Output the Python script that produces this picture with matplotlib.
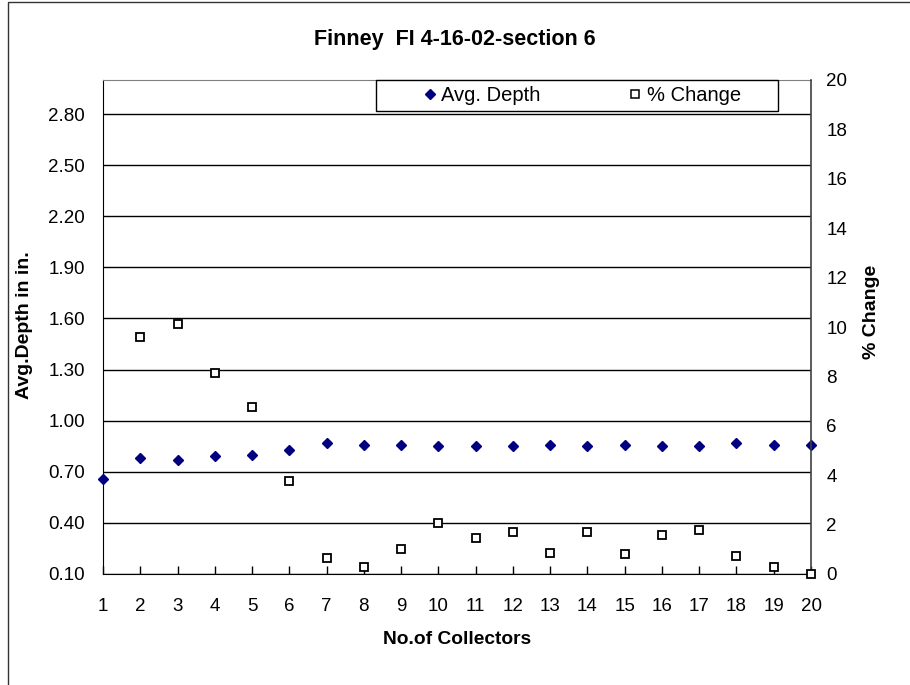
import matplotlib
matplotlib.use("Agg")
import matplotlib.pyplot as plt
from matplotlib.lines import Line2D
from matplotlib.patches import Rectangle

plt.rcParams['font.family'] = ['Liberation Sans', 'DejaVu Sans']

collectors = list(range(1, 21))
avg_depth = [0.66, 0.78, 0.77, 0.79, 0.80, 0.83, 0.87, 0.86, 0.86, 0.85,
             0.85, 0.85, 0.86, 0.85, 0.86, 0.85, 0.85, 0.87, 0.86, 0.86]
pct_x = list(range(2, 21))
pct_change = [9.61, 10.12, 8.15, 6.77, 3.77, 0.66, 0.27, 1.00, 2.05, 1.46,
              1.71, 0.86, 1.71, 0.80, 1.59, 1.78, 0.73, 0.27, 0.0]
left_ticks = [0.10, 0.40, 0.70, 1.00, 1.30, 1.60, 1.90, 2.20, 2.50, 2.80]
right_ticks = list(range(0, 21, 2))

W, H = 910, 685
fig = plt.figure(figsize=(W / 100, H / 100), dpi=100)

# outer chart border (only top/left visible in the reference)
fig.patches.append(Rectangle((8 / W, -0.05), 1.0, 1 - 2 / H + 0.05,
                             transform=fig.transFigure, fill=False,
                             edgecolor='#333333', lw=1.0, clip_on=False))

L, R, T, B = 103, 811, 80, 574
ax = fig.add_axes([L / W, 1 - B / H, (R - L) / W, (B - T) / H])
ax2 = ax.twinx()

ax.set_xlim(1, 20)
ax.set_ylim(0.1, 3.0)
ax2.set_ylim(0, 20)

ax.set_xticks(collectors)
ax.set_xticklabels([str(c) for c in collectors])
ax.set_yticks(left_ticks)
ax.set_yticklabels([f"{v:.2f}" for v in left_ticks])
ax2.set_yticks(right_ticks)
ax2.set_yticklabels([str(v) for v in right_ticks])

ax.tick_params(axis='x', direction='in', length=6, width=1, pad=17, labelsize=13.5)
ax.tick_params(axis='y', length=0, pad=13, labelsize=13.5)
ax2.tick_params(axis='y', length=0, pad=11, labelsize=13.5)

ax.yaxis.grid(True, color='black', lw=1)
ax.set_axisbelow(True)

for s in ['left', 'bottom']:
    ax.spines[s].set_color('black')
ax.spines['top'].set_color('#808080')
ax.spines['right'].set_visible(False)
for s in ['left', 'bottom', 'top']:
    ax2.spines[s].set_visible(False)
ax2.spines['right'].set_color('#404040')
ax2.spines['right'].set_linewidth(1.2)

ax.plot(collectors, avg_depth, linestyle='none', marker='D', markersize=5.5,
        color='#000080', clip_on=False, zorder=5)
ax2.plot(pct_x, pct_change, linestyle='none', marker='s', markersize=5.6,
         markerfacecolor='white', markeredgecolor='black', markeredgewidth=1.3,
         clip_on=False, zorder=5)

fig.text(455 / W, 1 - 40 / H, "Finney  FI 4-16-02-section 6", ha='center',
         va='center', fontsize=15.5, fontweight='bold')
fig.text(457 / W, 1 - 640 / H, "No.of Collectors", ha='center', va='center',
         fontsize=13.8, fontweight='bold')
fig.text(25 / W, 1 - 325 / H, "Avg.Depth in in.", ha='center', va='center',
         rotation=90, fontsize=14, fontweight='bold')
fig.text(871 / W, 1 - 312 / H, "% Change", ha='center', va='center',
         rotation=90, fontsize=14, fontweight='bold')

# legend
lx0, lx1, ly0, ly1 = 376, 778, 80, 111
ax2.add_patch(Rectangle(((lx0 - L) / (R - L), (B - ly1) / (B - T)),
                        (lx1 - lx0) / (R - L), (ly1 - ly0) / (B - T),
                        transform=ax2.transAxes, facecolor='white',
                        edgecolor='black', lw=1.0, zorder=10, clip_on=False))
handles = [
    Line2D([], [], linestyle='none', marker='D', markersize=5, color='#000080'),
    Line2D([], [], linestyle='none', marker='s', markersize=5.5,
           markerfacecolor='white', markeredgecolor='black', markeredgewidth=1.1),
]
leg = ax2.legend(handles, ["Avg. Depth", "% Change"], ncol=2, frameon=False,
                 loc='center',
                 bbox_to_anchor=((582.5 - L) / (R - L), (B - 95.5) / (B - T)),
                 fontsize=14.5, handlelength=0.6, handletextpad=0.25,
                 columnspacing=4.4, borderpad=0.1)
leg.set_zorder(11)

fig.savefig("out.png", dpi=100)
